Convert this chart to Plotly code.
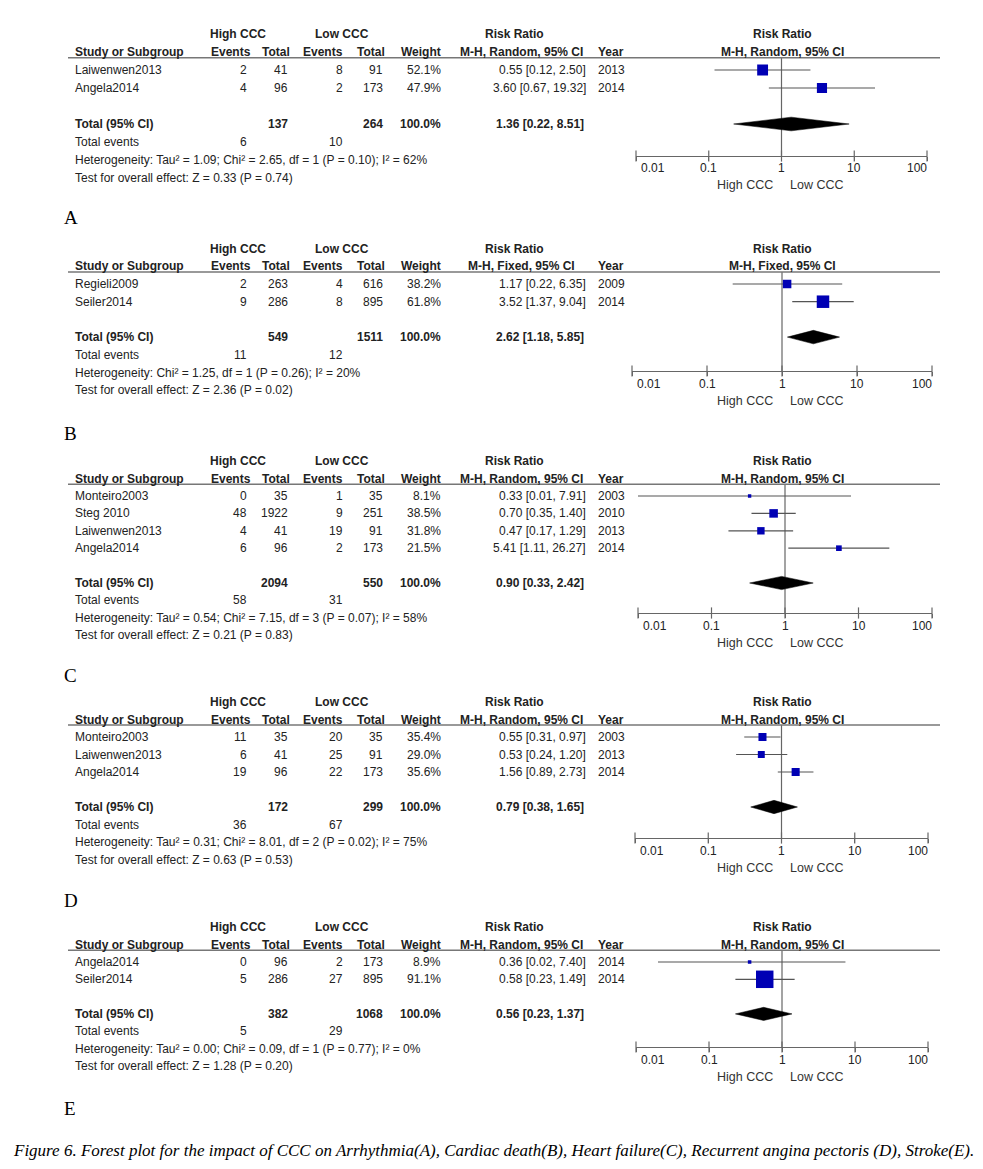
import math
import plotly.graph_objects as go

W, H = 983, 1169

# ---------------- data ----------------
# Panel A: Arrhythmia
studies_A = ["Laiwenwen2013", "Angela2014"]
hi_ev_A = [2, 4]
hi_tot_A = [41, 96]
lo_ev_A = [8, 2]
lo_tot_A = [91, 173]
weight_A = [52.1, 47.9]
rr_A = [0.55, 3.60]
ci_lo_A = [0.12, 0.67]
ci_hi_A = [2.50, 19.32]
year_A = [2013, 2014]
total_n_A = [137, 264]
total_rr_A = [1.36, 0.22, 8.51]
total_ev_A = [6, 10]
het_A = "Heterogeneity: Tau² = 1.09; Chi² = 2.65, df = 1 (P = 0.10); I² = 62%"
test_A = "Test for overall effect: Z = 0.33 (P = 0.74)"

# Panel B: Cardiac death
studies_B = ["Regieli2009", "Seiler2014"]
hi_ev_B = [2, 9]
hi_tot_B = [263, 286]
lo_ev_B = [4, 8]
lo_tot_B = [616, 895]
weight_B = [38.2, 61.8]
rr_B = [1.17, 3.52]
ci_lo_B = [0.22, 1.37]
ci_hi_B = [6.35, 9.04]
year_B = [2009, 2014]
total_n_B = [549, 1511]
total_rr_B = [2.62, 1.18, 5.85]
total_ev_B = [11, 12]
het_B = "Heterogeneity: Chi² = 1.25, df = 1 (P = 0.26); I² = 20%"
test_B = "Test for overall effect: Z = 2.36 (P = 0.02)"

# Panel C: Heart failure
studies_C = ["Monteiro2003", "Steg 2010", "Laiwenwen2013", "Angela2014"]
hi_ev_C = [0, 48, 4, 6]
hi_tot_C = [35, 1922, 41, 96]
lo_ev_C = [1, 9, 19, 2]
lo_tot_C = [35, 251, 91, 173]
weight_C = [8.1, 38.5, 31.8, 21.5]
rr_C = [0.33, 0.70, 0.47, 5.41]
ci_lo_C = [0.01, 0.35, 0.17, 1.11]
ci_hi_C = [7.91, 1.40, 1.29, 26.27]
year_C = [2003, 2010, 2013, 2014]
total_n_C = [2094, 550]
total_rr_C = [0.90, 0.33, 2.42]
total_ev_C = [58, 31]
het_C = "Heterogeneity: Tau² = 0.54; Chi² = 7.15, df = 3 (P = 0.07); I² = 58%"
test_C = "Test for overall effect: Z = 0.21 (P = 0.83)"

# Panel D: Recurrent angina pectoris
studies_D = ["Monteiro2003", "Laiwenwen2013", "Angela2014"]
hi_ev_D = [11, 6, 19]
hi_tot_D = [35, 41, 96]
lo_ev_D = [20, 25, 22]
lo_tot_D = [35, 91, 173]
weight_D = [35.4, 29.0, 35.6]
rr_D = [0.55, 0.53, 1.56]
ci_lo_D = [0.31, 0.24, 0.89]
ci_hi_D = [0.97, 1.20, 2.73]
year_D = [2003, 2013, 2014]
total_n_D = [172, 299]
total_rr_D = [0.79, 0.38, 1.65]
total_ev_D = [36, 67]
het_D = "Heterogeneity: Tau² = 0.31; Chi² = 8.01, df = 2 (P = 0.02); I² = 75%"
test_D = "Test for overall effect: Z = 0.63 (P = 0.53)"

# Panel E: Stroke
studies_E = ["Angela2014", "Seiler2014"]
hi_ev_E = [0, 5]
hi_tot_E = [96, 286]
lo_ev_E = [2, 27]
lo_tot_E = [173, 895]
weight_E = [8.9, 91.1]
rr_E = [0.36, 0.58]
ci_lo_E = [0.02, 0.23]
ci_hi_E = [7.40, 1.49]
year_E = [2014, 2014]
total_n_E = [382, 1068]
total_rr_E = [0.56, 0.23, 1.37]
total_ev_E = [5, 29]
het_E = "Heterogeneity: Tau² = 0.00; Chi² = 0.09, df = 1 (P = 0.77); I² = 0%"
test_E = "Test for overall effect: Z = 1.28 (P = 0.20)"

total_weight = "100.0%"
letters = ["A", "B", "C", "D", "E"]
methods = ["Random", "Fixed", "Random", "Random", "Random"]
tick_vals = [0.01, 0.1, 1, 10, 100]
tick_text = ["0.01", "0.1", "1", "10", "100"]
group_labels = ["High CCC", "Low CCC"]
caption = ("Figure 6. Forest plot for the impact of CCC on Arrhythmia(A), Cardiac death(B), "
           "Heart failure(C), Recurrent angina pectoris (D), Stroke(E).")

panels = [
    (studies_A, hi_ev_A, hi_tot_A, lo_ev_A, lo_tot_A, weight_A, rr_A, ci_lo_A, ci_hi_A, year_A,
     total_n_A, total_rr_A, total_ev_A, het_A, test_A),
    (studies_B, hi_ev_B, hi_tot_B, lo_ev_B, lo_tot_B, weight_B, rr_B, ci_lo_B, ci_hi_B, year_B,
     total_n_B, total_rr_B, total_ev_B, het_B, test_B),
    (studies_C, hi_ev_C, hi_tot_C, lo_ev_C, lo_tot_C, weight_C, rr_C, ci_lo_C, ci_hi_C, year_C,
     total_n_C, total_rr_C, total_ev_C, het_C, test_C),
    (studies_D, hi_ev_D, hi_tot_D, lo_ev_D, lo_tot_D, weight_D, rr_D, ci_lo_D, ci_hi_D, year_D,
     total_n_D, total_rr_D, total_ev_D, het_D, test_D),
    (studies_E, hi_ev_E, hi_tot_E, lo_ev_E, lo_tot_E, weight_E, rr_E, ci_lo_E, ci_hi_E, year_E,
     total_n_E, total_rr_E, total_ev_E, het_E, test_E),
]

# ---------------- layout geometry (pixels) ----------------
geo = [
    dict(row0=70, step=18.0, axis=156, letter=218, x01=636, x100=927),
    dict(row0=284, step=17.7, axis=371, letter=433, x01=632, x100=932),
    dict(row0=496, step=17.4, axis=613, letter=675, x01=638, x100=932),
    dict(row0=737, step=17.5, axis=838, letter=900, x01=635, x100=928),
    dict(row0=962, step=17.3, axis=1047, letter=1108, x01=636, x100=928),
]

FONT = "Liberation Sans, Arial, sans-serif"
TXT = "#222222"
GRAY = "#666666"
SIZE = 12

def px2x(px):
    return px / W

def px2y(py):
    return 1 - py / H

fig = go.Figure()
annotations = []
shapes = []
layout_axes = {}

for k, (pdata, g) in enumerate(zip(panels, geo), start=1):
    (studies, hev, htot, lev, ltot, wts, rr, cl, ch, yrs, tn, trr, tev, het, test) = pdata
    n = len(studies)
    xname = "x" if k == 1 else f"x{k}"
    yname = "y" if k == 1 else f"y{k}"
    xkey = "xaxis" if k == 1 else f"xaxis{k}"
    ykey = "yaxis" if k == 1 else f"yaxis{k}"

    row0, step = g["row0"], g["step"]
    def row(px, row0=row0, step=step):
        return (px - row0) / step

    top_px = row0 - 2.6 * step
    bot_px = g["letter"] + 14
    axis_row = row(g["axis"])
    rule_row = -0.68

    layout_axes[ykey] = dict(domain=[px2y(bot_px), px2y(top_px)],
                             range=[row(bot_px), row(top_px)],
                             visible=False, anchor=xname, fixedrange=True)
    layout_axes[xkey] = dict(type="log", range=[-2, 2],
                             domain=[px2x(g["x01"]), px2x(g["x100"])],
                             anchor="free", position=px2y(g["axis"]),
                             showline=True, linecolor=GRAY, linewidth=1.2,
                             tickvals=tick_vals, showticklabels=False,
                             ticks="outside", ticklen=4, tickwidth=1.2, tickcolor=GRAY,
                             showgrid=False, zeroline=False, fixedrange=True)

    # upper halves of tick marks (ticks cross the axis line)
    fig.add_trace(go.Scatter(x=tick_vals, y=[axis_row] * len(tick_vals), mode="markers",
                             marker=dict(symbol="line-ns", size=8,
                                         line=dict(width=1.2, color=GRAY)),
                             xaxis=xname, yaxis=yname, hoverinfo="skip",
                             showlegend=False, cliponaxis=False))
    # line of no effect
    fig.add_trace(go.Scatter(x=[1, 1], y=[rule_row, axis_row], mode="lines",
                             line=dict(color=GRAY, width=1.2),
                             xaxis=xname, yaxis=yname, hoverinfo="skip", showlegend=False))
    # confidence intervals
    cx, cy = [], []
    for i in range(n):
        cx += [cl[i], ch[i], None]
        cy += [i, i, None]
    fig.add_trace(go.Scatter(x=cx, y=cy, mode="lines", line=dict(color="#555555", width=1.2),
                             xaxis=xname, yaxis=yname, hoverinfo="skip", showlegend=False))
    # weighted squares
    fig.add_trace(go.Scatter(x=rr, y=list(range(n)), mode="markers",
                             marker=dict(symbol="square", color="#0000b4", opacity=1,
                                         size=[2 + 0.17 * w for w in wts],
                                         line=dict(width=0)),
                             xaxis=xname, yaxis=yname, showlegend=False))
    # pooled diamond
    tr = n + 1
    h = 0.38
    fig.add_trace(go.Scatter(x=[trr[1], trr[0], trr[2], trr[0], trr[1]],
                             y=[tr, tr - h, tr, tr + h, tr], mode="lines", fill="toself",
                             fillcolor="black", line=dict(color="black", width=0.5),
                             xaxis=xname, yaxis=yname, showlegend=False))

    def txt(text, xpx, y, anchor="left", bold=False, size=SIZE, color=TXT):
        annotations.append(dict(text=f"<b>{text}</b>" if bold else text,
                                x=px2x(xpx), xref="paper", y=y, yref=yname,
                                xanchor=anchor, yanchor="middle", showarrow=False,
                                font=dict(family=FONT, size=size, color=color)))

    # header rows
    txt(group_labels[0], 238, -2, "center", True)
    txt(group_labels[1], 342, -2, "center", True)
    txt("Risk Ratio", 514, -2, "center", True)
    txt("Risk Ratio", 782, -2, "center", True)
    txt("Study or Subgroup", 73, -1, "left", True)
    txt("Events", 231, -1, "center", True)
    txt("Total", 276, -1, "center", True)
    txt("Events", 323, -1, "center", True)
    txt("Total", 371, -1, "center", True)
    txt("Weight", 421, -1, "center", True)
    mh = f"M-H, {methods[k-1]}, 95% CI"
    txt(mh, 521, -1, "center", True)
    txt("Year", 596, -1, "left", True)
    txt(mh, 782, -1, "center", True)
    shapes.append(dict(type="line", xref="paper", yref=yname, x0=px2x(68), x1=px2x(940),
                       y0=rule_row, y1=rule_row, line=dict(color="#777777", width=1.5)))

    # study rows
    for i in range(n):
        txt(studies[i], 73, i)
        txt(str(hev[i]), 249, i, "right")
        txt(str(htot[i]), 290, i, "right")
        txt(str(lev[i]), 345, i, "right")
        txt(str(ltot[i]), 385, i, "right")
        txt(f"{wts[i]:.1f}%", 443, i, "right")
        txt(f"{rr[i]:.2f} [{cl[i]:.2f}, {ch[i]:.2f}]", 588, i, "right")
        txt(str(yrs[i]), 596, i, "left")

    # totals
    txt("Total (95% CI)", 73, tr, "left", True)
    txt(str(tn[0]), 290, tr, "right", True)
    txt(str(tn[1]), 385, tr, "right", True)
    txt(total_weight, 443, tr, "right", True)
    txt(f"{trr[0]:.2f} [{trr[1]:.2f}, {trr[2]:.2f}]", 586, tr, "right", True)
    txt("Total events", 73, n + 2)
    txt(str(tev[0]), 249, n + 2, "right")
    txt(str(tev[1]), 345, n + 2, "right")
    txt(het, 73, n + 3)
    txt(test, 73, n + 4)

    # forest axis tick labels and direction labels
    tl_row = row(g["axis"] + 12.5)
    for v, t in zip(tick_vals, tick_text):
        anchor = "left" if v == tick_vals[0] else ("right" if v == tick_vals[-1] else "center")
        shift = 3 if v == tick_vals[0] else (2 if v == tick_vals[-1] else 0)
        annotations.append(dict(text=t, x=math.log10(v), xref=xname, y=tl_row, yref=yname,
                                xanchor=anchor, yanchor="middle", showarrow=False, xshift=shift,
                                font=dict(family=FONT, size=SIZE, color=TXT)))
    dl_row = row(g["axis"] + 29.5)
    txt(group_labels[0], 745, dl_row, "center", size=12.5, color="#333333")
    txt(group_labels[1], 817, dl_row, "center", size=12.5, color="#333333")

    # panel letter
    annotations.append(dict(text=letters[k-1], x=px2x(62), xref="paper",
                            y=row(g["letter"]), yref=yname, xanchor="left", yanchor="middle",
                            showarrow=False,
                            font=dict(family="Liberation Serif, Times New Roman, serif",
                                      size=19, color="black")))

annotations.append(dict(text=f"<i>{caption}</i>", x=px2x(11), xref="paper", y=px2y(1150),
                        yref="paper", xanchor="left", yanchor="middle", showarrow=False,
                        font=dict(family="Liberation Serif, Times New Roman, serif",
                                  size=17, color="black")))

fig.update_layout(width=W, height=H, margin=dict(l=0, r=0, t=0, b=0),
                  paper_bgcolor="white", plot_bgcolor="white", showlegend=False,
                  annotations=annotations, shapes=shapes, **layout_axes)

fig.write_html("out.html", config={"displayModeBar": False},
               post_script="document.body.style.margin='0';document.body.style.overflow='hidden';")
